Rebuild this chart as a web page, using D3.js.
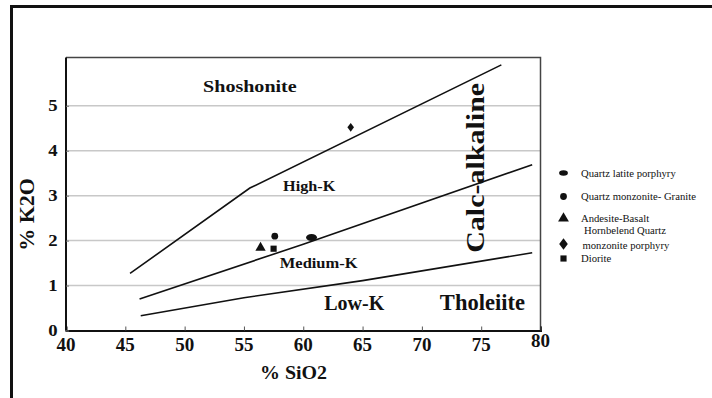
<!DOCTYPE html>
<html>
<head>
<meta charset="utf-8">
<script src="https://cdn.jsdelivr.net/npm/d3@7"></script>
<style>
  body { margin: 0; background: #fff; }
  svg { display: block; }
  text { font-family: "Liberation Serif", "Times New Roman", Times, serif; fill: #111; }
</style>
</head>
<body>
<svg id="chart"></svg>
<script>
// Tick values
var xTicks = [40, 45, 50, 55, 60, 65, 70, 75, 80];
var yTicks = [0, 1, 2, 3, 4, 5];

// Boundary lines, [SiO2, K2O]
var shoshoniteLine = [[45.4, 1.27], [55.5, 3.17], [76.7, 5.91]];
var highKLine = [[46.2, 0.70], [60, 1.92], [79.3, 3.69]];
var mediumKLine = [[46.3, 0.33], [55, 0.73], [65, 1.11], [79.3, 1.73]];

// Samples
var sampleNames = ["Quartz latite porphyry", "Quartz monzonite- Granite", "Andesite-Basalt",
                   "Hornbelend Quartz monzonite porphyry", "Diorite"];
var sampleSymbols = ["ellipse", "circle", "triangle", "diamond", "square"];
var sampleSiO2 = [60.7, 57.6, 56.4, 64.0, 57.5];
var sampleK2O = [2.07, 2.10, 1.84, 4.52, 1.82];

// Field names
var fieldNames = ["Shoshonite", "High-K", "Medium-K", "Low-K", "Tholeiite", "Calc-alkaline"];
var fieldSiO2 = [55.5, 60.5, 61.3, 64.3, 75.1, 75.2];
var fieldK2O = [5.30, 3.11, 1.40, 0.45, 0.45, 3.62];

var width = 712, height = 398;
var svg = d3.select("#chart").attr("width", width).attr("height", height);

// Outer frame, only left and top sides are in view
svg.append("path")
    .attr("d", "M11.5," + (height + 5) + "V6.5H" + (width + 5))
    .attr("fill", "none")
    .attr("stroke", "#111")
    .attr("stroke-width", 3);

var x = d3.scaleLinear().domain([40, 80]).range([66, 540.5]);
var y = d3.scaleLinear().domain([0, 5]).range([330.5, 105.8]);
var plotTop = 57.5;

// Light grid lines
svg.append("g")
    .selectAll("line")
    .data(yTicks.slice(1))
    .join("line")
      .attr("x1", x(40)).attr("x2", x(80))
      .attr("y1", d => y(d)).attr("y2", d => y(d))
      .attr("stroke", "#c8c8c8")
      .attr("stroke-width", 1.5);

// Top and right edges of plot box
svg.append("path")
    .attr("d", "M" + x(40) + "," + plotTop + "H" + x(80) + "V" + y(0))
    .attr("fill", "none")
    .attr("stroke", "#444")
    .attr("stroke-width", 1.5);

// Helper for stretched bold labels
function label(g, txt, px, py, size, sx, rot, anchor, weight) {
    g.append("text")
        .attr("transform", "translate(" + px + "," + py + ") rotate(" + (rot || 0) + ") scale(" + sx + ",1)")
        .attr("font-size", size)
        .attr("font-weight", weight || "bold")
        .attr("text-anchor", anchor || "middle")
        .text(txt);
}

// Axes
var xAxis = svg.append("g")
    .attr("transform", "translate(0," + y(0) + ")")
    .call(d3.axisBottom(x).tickValues(xTicks).tickSize(-4).tickFormat(""));
xAxis.select(".domain").attr("stroke", "#111").attr("stroke-width", 2);
xAxis.selectAll(".tick line").attr("stroke", "#555").attr("stroke-width", 1);

var yAxis = svg.append("g")
    .attr("transform", "translate(" + x(40) + ",0)")
    .call(d3.axisLeft(y).tickValues(yTicks).tickSize(-3).tickFormat(""));
yAxis.select(".domain").attr("d", "M0," + plotTop + "V" + y(0))
    .attr("stroke", "#111").attr("stroke-width", 2);
yAxis.selectAll(".tick line").attr("stroke", "#777").attr("stroke-width", 1);

// Tick labels
xTicks.forEach(function(t, i) {
    var lift = (i === xTicks.length - 1) ? 4 : 0;
    label(svg, t, x(t), 351 - lift, 19, 1.0);
});
yTicks.forEach(function(t) {
    label(svg, t, 57.5, y(t) + 5.5, 17, 1.1, 0, "end");
});

// Axis titles
label(svg, "% SiO2", 293.5, 379, 19, 1.05);
label(svg, "% K2O", 33.5, 214.5, 20, 1.1, -90);

// Boundary lines
var line = d3.line().x(d => x(d[0])).y(d => y(d[1]));
var lineGroup = svg.append("g");
[shoshoniteLine, highKLine, mediumKLine].forEach(function(pts) {
    lineGroup.append("path")
        .attr("d", line(pts))
        .attr("fill", "none")
        .attr("stroke", "#111")
        .attr("stroke-width", 1.6);
});

// Field labels
var fieldSizes = [17, 15, 15, 20, 22.5, 25];
var fieldStretch = [1.18, 1.08, 1.1, 1.0, 1.0, 1.2];
fieldNames.forEach(function(name, i) {
    label(svg, name, x(fieldSiO2[i]), y(fieldK2O[i]), fieldSizes[i], fieldStretch[i],
          i === 5 ? -90 : 0);
});

// Draw one sample symbol, k scales it up for the legend
var symbolTypes = { circle: d3.symbolCircle, triangle: d3.symbolTriangle, square: d3.symbolSquare };
var symbolSizes = { circle: 36, triangle: 46, square: 38 };
function marker(g, kind, px, py, k) {
    k = k || 1;
    if (kind === "ellipse") {
        g.append("ellipse")
            .attr("cx", px).attr("cy", py)
            .attr("rx", 5.5 * k).attr("ry", 3.5 * k)
            .attr("fill", "#111");
    } else if (kind === "diamond") {
        g.append("path")
            .attr("transform", "translate(" + px + "," + py + ") scale(" + (3.3 * k) + "," + (4.4 * k) + ")")
            .attr("d", "M0,-1L1,0L0,1L-1,0Z")
            .attr("fill", "#111");
    } else {
        g.append("path")
            .attr("transform", "translate(" + px + "," + py + ")")
            .attr("d", d3.symbol().type(symbolTypes[kind]).size(symbolSizes[kind] * k * k)())
            .attr("fill", "#111");
    }
}

var pointGroup = svg.append("g");
sampleNames.forEach(function(n, i) {
    marker(pointGroup, sampleSymbols[i], x(sampleSiO2[i]), y(sampleK2O[i]));
});

// Legend
var legendRows = [173, 196.5, 218.5, 244, 258.5];
var legendScale = [0.8, 1.0, 1.05, 1.3, 1.0];
var legend = svg.append("g");
sampleNames.forEach(function(n, i) {
    marker(legend, sampleSymbols[i], 563.5, legendRows[i], legendScale[i]);
    if (sampleSymbols[i] === "diamond") {
        label(legend, "Hornbelend Quartz", 584, legendRows[i] - 10.5, 11, 0.97, 0, "start", "normal");
        label(legend, "monzonite porphyry", 582.5, legendRows[i] + 4.5, 11, 0.97, 0, "start", "normal");
    } else {
        label(legend, n, 581, legendRows[i] + 3.5, 11, 0.97, 0, "start", "normal");
    }
});
</script>
</body>
</html>
